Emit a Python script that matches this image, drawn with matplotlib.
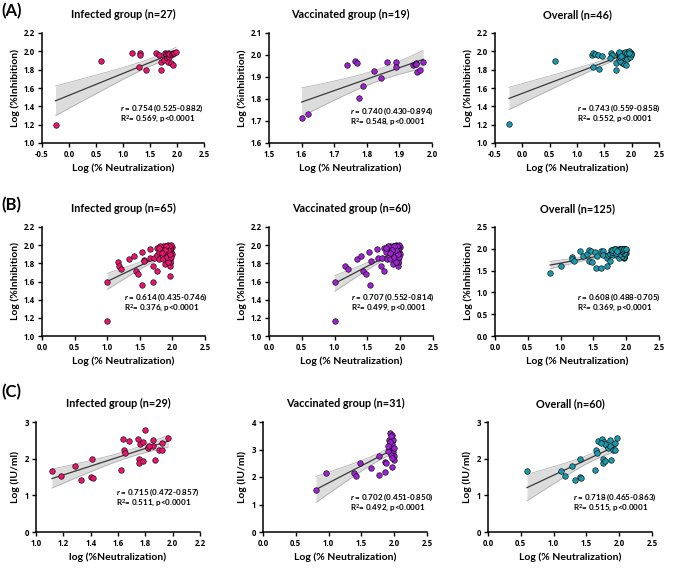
import numpy as np
import matplotlib
matplotlib.use("Agg")
import matplotlib.pyplot as plt

plt.rcParams['font.family'] = ['Lato', 'DejaVu Sans']
plt.rcParams['font.weight'] = 'bold'
plt.rcParams['mathtext.fontset'] = 'custom'
plt.rcParams['mathtext.rm'] = 'Lato:bold'
plt.rcParams['mathtext.it'] = 'Lato:bold:italic'

# ---------------- data ----------------
# Row A : Log(% Neutralization) vs Log(% Inhibition)
a_inf_x = [-0.25, 0.59, 1.17, 1.31, 1.32, 1.29, 1.42, 1.62, 1.66, 1.71, 1.71, 1.75, 1.77, 1.79,
           1.80, 1.82, 1.84, 1.85, 1.86, 1.84, 1.88, 1.92, 1.86, 1.90, 1.93, 1.95, 1.98]
a_inf_y = [1.20, 1.89, 1.98, 1.98, 1.96, 1.83, 1.80, 1.98, 1.96, 1.80, 1.88, 1.91, 1.98, 1.96,
           1.97, 1.93, 1.98, 1.96, 1.94, 1.88, 1.87, 1.85, 1.97, 1.97, 1.98, 1.98, 1.99]

a_vac_x = [1.600, 1.620, 1.738, 1.765, 1.769, 1.776, 1.789, 1.823, 1.844, 1.861, 1.891, 1.891,
           1.942, 1.947, 1.952, 1.954, 1.964, 1.973, 1.950]
a_vac_y = [1.714, 1.733, 1.955, 1.971, 1.962, 1.803, 1.858, 1.926, 1.897, 1.967, 1.967, 1.944,
           1.953, 1.961, 1.965, 1.923, 1.930, 1.967, 1.958]

a_all_x = [-0.244, 0.596, 1.277, 1.30, 1.338, 1.387, 1.466, 1.29, 1.405, 1.618, 1.642, 1.606,
           1.709, 1.715, 1.75, 1.764, 1.795, 1.81, 1.84, 1.87, 1.90, 1.93, 1.965, 1.995, 1.825,
           1.86, 1.89, 1.93, 1.78, 1.82, 1.85, 1.88, 1.91, 1.94, 1.98, 1.79, 1.76, 1.92, 1.97,
           1.87, 1.91, 1.95, 1.77, 1.81, 1.99, 1.96]
a_all_y = [1.204, 1.895, 1.964, 1.98, 1.975, 1.964, 1.945, 1.833, 1.804, 1.982, 1.96, 1.924,
           1.80, 1.876, 1.975, 1.916, 1.945, 1.975, 1.956, 1.975, 1.945, 1.975, 1.982, 1.985, 1.873,
           1.866, 1.847, 1.93, 1.895, 1.982, 1.938, 1.960, 1.989, 1.953, 1.963, 1.938, 1.982,
           1.916, 1.938, 1.993, 1.982, 2.004, 1.993, 1.953, 1.967, 1.978]

# Row B
b_inf_x = [1.00, 1.00, 1.17, 1.18, 1.21, 1.34, 1.41, 1.44, 1.48, 1.53, 1.54, 1.56, 1.57, 1.65,
           1.66, 1.70, 1.71, 1.72, 1.76, 1.76, 1.77, 1.80, 1.83, 1.84, 1.85, 1.86, 1.88, 1.89,
           1.90, 1.91, 1.92, 1.93, 1.94, 1.95, 1.95, 1.96, 1.97, 1.97, 1.97, 1.98, 1.98, 1.99,
           1.99, 1.94, 1.96, 1.93, 1.89, 1.85, 1.82, 1.79, 1.81, 1.90, 1.91, 1.94, 1.96, 1.97,
           1.98, 1.98, 1.96, 1.95, 1.93, 1.90, 1.88, 1.84, 1.79]
b_inf_y = [1.60, 1.17, 1.81, 1.77, 1.74, 1.85, 1.88, 1.72, 1.68, 1.92, 1.56, 1.84, 1.83, 1.96,
           1.86, 1.77, 1.60, 1.86, 1.72, 1.89, 1.97, 1.85, 1.97, 1.93, 1.85, 1.98, 1.90, 1.79,
           1.96, 1.99, 1.91, 1.98, 2.00, 1.95, 1.87, 1.84, 1.80, 1.77, 1.66, 1.99, 1.93, 1.98,
           1.90, 1.85, 1.82, 1.82, 1.99, 1.99, 1.95, 1.92, 1.99, 1.93, 1.87, 1.96, 1.99, 1.96,
           2.00, 1.87, 1.90, 1.99, 1.95, 1.99, 1.95, 1.91, 1.97]

b_vac_x = [1.00, 1.00, 1.16, 1.20, 1.34, 1.41, 1.44, 1.48, 1.53, 1.54, 1.56, 1.65, 1.66, 1.71,
           1.72, 1.76, 1.76, 1.80, 1.83, 1.84, 1.85, 1.86, 1.88, 1.89, 1.90, 1.91, 1.92, 1.93,
           1.94, 1.95, 1.95, 1.96, 1.97, 1.97, 1.98, 1.98, 1.99, 1.99, 1.94, 1.96, 1.93, 1.89,
           1.85, 1.82, 1.79, 1.81, 1.90, 1.91, 1.94, 1.96, 1.97, 1.98, 1.98, 1.96, 1.95, 1.93,
           1.90, 1.88, 1.84, 1.79]
b_vac_y = [1.60, 1.17, 1.77, 1.74, 1.85, 1.88, 1.72, 1.68, 1.92, 1.56, 1.83, 1.96, 1.86, 1.77,
           1.86, 1.72, 1.97, 1.85, 1.97, 1.93, 1.85, 1.98, 1.90, 1.79, 1.96, 1.99, 1.91, 1.98,
           2.00, 1.95, 1.87, 1.84, 1.80, 1.77, 1.99, 1.93, 1.98, 1.90, 1.85, 1.82, 1.82, 1.99,
           1.99, 1.95, 1.92, 1.99, 1.93, 1.87, 1.96, 1.99, 1.96, 2.00, 1.87, 1.90, 1.99, 1.95,
           1.99, 1.95, 1.91, 1.97]

b_all_x = [0.84, 1.00, 1.17, 1.18, 1.21, 1.29, 1.34, 1.41, 1.44, 1.47, 1.44, 1.48, 1.53,
           1.54, 1.56, 1.62, 1.61, 1.64, 1.65, 1.71, 1.70, 1.72, 1.76, 1.76, 1.77, 1.80,
           1.83, 1.84, 1.85, 1.86, 1.88, 1.89, 1.90, 1.91, 1.92, 1.93, 1.94, 1.95, 1.95,
           1.96, 1.97, 1.97, 1.98, 1.98, 1.99, 1.99, 1.94, 1.96, 1.93, 1.89, 1.85, 1.82,
           1.79, 1.81, 1.90, 1.91, 1.94, 1.96, 1.97, 1.98, 1.98, 1.96, 1.95, 1.93, 1.90,
           1.88, 1.84, 1.79, 1.87, 1.92, 1.95, 1.97, 1.99, 1.83, 1.86]
b_all_y = [1.44, 1.60, 1.81, 1.76, 1.73, 1.95, 1.84, 1.88, 1.97, 1.96, 1.73, 1.69, 1.92,
           1.55, 1.83, 1.55, 1.94, 1.95, 1.86, 1.60, 1.79, 1.86, 1.72, 1.89, 1.97, 1.85,
           1.97, 1.93, 1.85, 1.98, 1.90, 1.79, 1.96, 1.99, 1.91, 1.98, 2.00, 1.95, 1.87,
           1.84, 1.80, 1.82, 1.99, 1.93, 1.98, 1.90, 1.85, 1.82, 1.84, 1.99, 1.99, 1.95,
           1.92, 1.99, 1.93, 1.87, 1.96, 1.99, 1.96, 2.00, 1.87, 1.90, 1.99, 1.95, 1.99,
           1.95, 1.91, 1.97, 1.98, 2.00, 1.97, 1.99, 2.00, 1.99, 1.96]

# Row C : log(% Neutralization) vs Log(IU/ml)
c_inf_x = [1.117, 1.183, 1.285, 1.329, 1.407, 1.400, 1.415, 1.624, 1.637, 1.644, 1.651, 1.680,
           1.746, 1.751, 1.754, 1.761, 1.780, 1.785, 1.798, 1.817, 1.822, 1.854, 1.859, 1.873,
           1.898, 1.920, 1.924, 1.968, 1.827]
c_inf_y = [1.664, 1.518, 1.791, 1.409, 2.000, 1.500, 1.464, 1.690, 2.545, 2.227, 2.155, 2.473,
           2.527, 2.000, 1.891, 2.410, 2.455, 1.936, 2.773, 2.318, 2.300, 2.500, 2.336, 1.955,
           2.245, 2.245, 2.427, 2.555, 2.336]

c_vac_x = [0.808, 0.955, 1.387, 1.423, 1.474, 1.651, 1.768, 1.768, 1.855, 1.865, 1.880,
           1.93, 1.97, 1.92, 1.95, 1.98, 1.94, 1.97, 1.96, 1.94, 1.98, 1.99, 1.95, 1.99, 1.96,
           1.93, 1.99, 1.91, 1.97, 1.95, 1.905]
c_vac_y = [1.515, 2.158, 2.158, 2.048, 2.509, 2.339, 2.073, 2.752, 2.182, 2.533, 2.509,
           3.60, 3.52, 3.36, 3.31, 3.33, 3.19, 3.19, 3.00, 2.93, 2.91, 2.76, 2.81, 2.63, 2.36,
           3.27, 3.07, 2.96, 2.70, 3.48, 3.12]

c_all_x = [0.595, 1.108, 1.180, 1.280, 1.331, 1.407, 1.397, 1.413, 1.626, 1.646, 1.656, 1.677,
           1.743, 1.753, 1.758, 1.768, 1.789, 1.814, 1.824, 1.855, 1.860, 1.880, 1.910, 1.930,
           1.930, 1.966, 1.790, 1.730]
c_all_y = [1.664, 1.664, 1.518, 1.800, 1.409, 2.000, 1.500, 1.464, 1.690, 2.245, 2.155, 2.482,
           2.536, 2.000, 1.891, 2.455, 1.936, 2.336, 2.300, 2.500, 2.336, 1.955, 2.245, 2.245,
           2.427, 2.555, 2.410, 2.430]

titles = [["Infected group (n=27)", "Vaccinated group (n=19)", "Overall (n=46)"],
          ["Infected group (n=65)", "Vaccinated group (n=60)", "Overall (n=125)"],
          ["Infected group (n=29)", "Vaccinated group (n=31)", "Overall (n=60)"]]
stats_r = [["0.754 (0.525-0.882)", "0.740 (0.430-0.894)", "0.743 (0.559-0.858)"],
           ["0.614 (0.435-0.746)", "0.707 (0.552-0.814)", "0.608 (0.488-0.705)"],
           ["0.715 (0.472-0.857)", "0.702 (0.451-0.850)", "0.718 (0.465-0.863)"]]
stats_r2 = [["0.569", "0.548", "0.552"],
            ["0.376", "0.499", "0.369"],
            ["0.511", "0.492", "0.515"]]
ylabels = [["Log (%Inhibition)", "Log (%inhibition)", "Log (%Inhibition)"],
           ["Log (%Inhibition)", "Log (%Inhibition)", "Log (%Inhibition)"],
           ["Log (IU/ml)", "Log (IU/ml)", "Log (IU/ml)"]]
xlabels = [["Log (% Neutralization)"] * 3,
           ["Log (% Neutralization)"] * 3,
           ["log (%Neutralization)", "Log (% Neutralization)", "Log (% Neutralization)"]]
row_labels = ["(A)", "(B)", "(C)"]

colors = ["#E5156E", "#9B22CF", "#1C98AC"]

# ---------------- layout ----------------
W, H = 685, 570
fig = plt.figure(figsize=(W / 100, H / 100), dpi=100)

def frac_box(x0, x1, ytop, ybot):
    return [x0 / W, 1 - ybot / H, (x1 - x0) / W, (ybot - ytop) / H]

rows_px = [(33, 143), (227, 336), (422, 532)]
row_label_y = [11, 205, 392]
cols_px = [[(42, 204), (269, 432), (495, 659)],
           [(42, 205), (269, 433), (495, 659)],
           [(36, 200), (263, 427), (488, 652)]]

xlims = [[(-0.5, 2.5), (1.5, 2.0), (-0.5, 2.5)],
         [(0, 2.5), (0, 2.5), (0, 2.5)],
         [(1.0, 2.2), (0, 2.5), (0, 2.5)]]
xsteps = [[0.5, 0.1, 0.5], [0.5, 0.5, 0.5], [0.2, 0.5, 0.5]]
ylims = [[(1.0, 2.2), (1.6, 2.1), (1.0, 2.2)],
         [(1.0, 2.2), (1.0, 2.2), (0, 2.5)],
         [(0, 3), (0, 4), (0, 3)]]
ysteps = [[0.2, 0.1, 0.2], [0.2, 0.2, 0.5], [1, 1, 1]]
text_pos = [[(0.48, 0.315, 0.215), (0.50, 0.29, 0.19), (0.50, 0.315, 0.215)],
            [(0.50, 0.355, 0.255), (0.50, 0.355, 0.255), (0.50, 0.355, 0.255)],
            [(0.49, 0.36, 0.26), (0.53, 0.315, 0.215), (0.52, 0.315, 0.215)]]

data = [[(a_inf_x, a_inf_y), (a_vac_x, a_vac_y), (a_all_x, a_all_y)],
        [(b_inf_x, b_inf_y), (b_vac_x, b_vac_y), (b_all_x, b_all_y)],
        [(c_inf_x, c_inf_y), (c_vac_x, c_vac_y), (c_all_x, c_all_y)]]


def fit_band(x, y):
    x = np.asarray(x, float)
    y = np.asarray(y, float)
    n = len(x)
    b, a = np.polyfit(x, y, 1)
    xs = np.linspace(x.min(), x.max(), 100)
    ys = a + b * xs
    resid = y - (a + b * x)
    s = np.sqrt(np.sum(resid ** 2) / (n - 2))
    df = n - 2
    t = 1.96 + 2.4 / df + 3.0 / df ** 2
    se = s * np.sqrt(1 / n + (xs - x.mean()) ** 2 / np.sum((x - x.mean()) ** 2))
    return xs, ys, ys - t * se, ys + t * se


tick_font = dict(family=['Open Sans', 'DejaVu Sans'], weight='bold', size=5.6)

for r in range(3):
    ytop, ybot = rows_px[r]
    for c in range(3):
        x0, x1 = cols_px[r][c]
        ax = fig.add_axes(frac_box(x0, x1, ytop, ybot))
        xv, yv = data[r][c]
        xs, ys, lo, hi = fit_band(xv, yv)
        ax.fill_between(xs, lo, hi, color="#DCDCDC", lw=0, zorder=1)
        ax.plot(xs, lo, color="#A8A8A8", lw=0.5, zorder=1.5)
        ax.plot(xs, hi, color="#A8A8A8", lw=0.5, zorder=1.5)
        ax.plot(xs, ys, color="#3A3A3A", lw=0.9, zorder=2)
        ax.scatter(xv, yv, s=16, color=colors[c], edgecolor="black", linewidth=0.4,
                   zorder=3, clip_on=False)
        xl, yl = xlims[r][c], ylims[r][c]
        ax.set_xlim(xl)
        ax.set_ylim(yl)
        xt = np.arange(xl[0], xl[1] + 1e-9, xsteps[r][c])
        yt = np.arange(yl[0], yl[1] + 1e-9, ysteps[r][c])
        ax.set_xticks(xt)
        ax.set_yticks(yt)
        ax.set_xticklabels([f"{v:.1f}" for v in xt], fontdict=tick_font)
        if r == 2:
            ax.set_yticklabels([f"{int(round(v))}" for v in yt], fontdict=tick_font)
        else:
            ax.set_yticklabels([f"{v:.1f}" for v in yt], fontdict=tick_font)
        for s in ["top", "right"]:
            ax.spines[s].set_visible(False)
        for s in ["left", "bottom"]:
            ax.spines[s].set_linewidth(1.1)
        ax.tick_params(axis="both", length=3, width=1.0, pad=2)
        ax.set_title(titles[r][c], fontsize=7.8, fontweight="bold", pad=11)
        ax.set_ylabel(ylabels[r][c], fontsize=7.5, fontweight="bold", labelpad=3)
        ax.set_xlabel(xlabels[r][c], fontsize=7.5, fontweight="bold", labelpad=3)
        tx, ty1, ty2 = text_pos[r][c]
        ax.text(tx, ty1, r"$\it{r}$ = " + stats_r[r][c], transform=ax.transAxes,
                fontsize=5.8, fontweight="bold", va="center", ha="left")
        ax.text(tx, ty2, r"R$^2$= " + stats_r2[r][c] + ", p<0.0001", transform=ax.transAxes,
                fontsize=5.8, fontweight="bold", va="center", ha="left")
    fig.text(1 / W, 1 - row_label_y[r] / H, row_labels[r], fontsize=12, fontweight="bold",
             va="center", ha="left")

fig.savefig("out.png", dpi=100)
